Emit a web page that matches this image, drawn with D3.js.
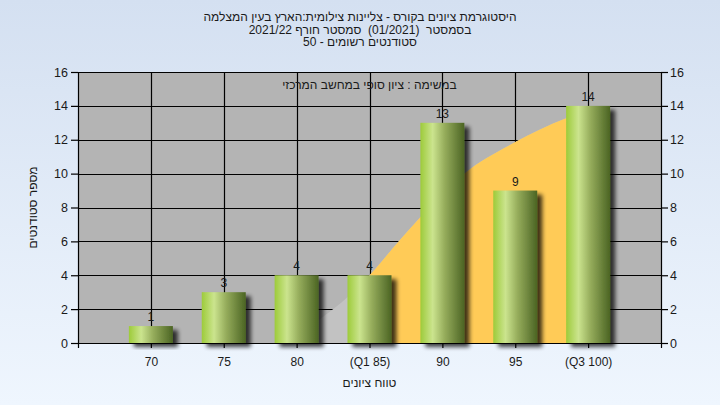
<!DOCTYPE html>
<html><head><meta charset="utf-8">
<script src="https://cdn.jsdelivr.net/npm/d3@7"></script>
<style>
html,body{margin:0;padding:0;}
svg{display:block;}
text{font-family:"Liberation Sans",Arial,"DejaVu Sans",sans-serif;fill:#1a1a1a;}
text.heb{white-space:pre;}
</style></head>
<body><svg id="c" width="720" height="405"></svg>
<script>
// ---- data ----
const categories = ["70","75","80","(Q1 85)","90","95","(Q3 100)"];
const gradeValues = [70,75,80,85,90,95,100];
const counts = [1,3,4,4,13,9,14];
const yTicks = [0,2,4,6,8,10,12,14,16];
const curveX = [79.5,81.8,83.5,85,87.1,88.5,91.5,95,98.4,100];
const curveY = [0,1.53,2.72,4.0,6.1,7.44,10.0,11.86,13.24,13.7];
const quartileRange = [85,100];
const titleLines = ["היסטוגרמת ציונים בקורס - צליינות צילומית:הארץ בעין המצלמה",
                    "בסמסטר  (01/2021)  סמסטר חורף 2021/22",
                    "סטודנטים רשומים - 50"];
const innerLabel = "במשימה : ציון סופי במחשב המרכזי";
const xTitle = "טווח ציונים";
const yTitle = "מספר סטודנטים";

const svg = d3.select("#c");
const W=720,H=405;
const m={l:78,r:59,t:72,b:62};
const pw=W-m.l-m.r, ph=H-m.t-m.b;

const defs=svg.append("defs");
const bg=defs.append("linearGradient").attr("id","bg").attr("x1",0).attr("y1",0).attr("x2",0).attr("y2",1);
bg.append("stop").attr("offset","0").attr("stop-color","#d4e0f1");
bg.append("stop").attr("offset","1").attr("stop-color","#eff6fe");
const bgr=defs.append("linearGradient").attr("id","bar").attr("x1",0).attr("y1",0).attr("x2",1).attr("y2",0);
[[0,"#9dcb3a"],[0.28,"#cbe48e"],[0.55,"#96ad5c"],[1,"#4b6423"]].forEach(s=>bgr.append("stop").attr("offset",s[0]).attr("stop-color",s[1]));
const f=defs.append("filter").attr("id","sh").attr("x","-20%").attr("y","-20%").attr("width","160%").attr("height","160%");
f.append("feGaussianBlur").attr("in","SourceAlpha").attr("stdDeviation",2.2).attr("result","b");
f.append("feOffset").attr("in","b").attr("dx",5).attr("dy",4).attr("result","o");
f.append("feComponentTransfer").attr("in","o").attr("result","o2").append("feFuncA").attr("type","linear").attr("slope",0.75);
const mg=f.append("feMerge"); mg.append("feMergeNode").attr("in","o2"); mg.append("feMergeNode").attr("in","SourceGraphic");

svg.append("rect").attr("width",W).attr("height",H).attr("fill","url(#bg)");

const x=d3.scaleLinear().domain([65,105]).range([m.l,m.l+pw]);
const y=d3.scaleLinear().domain([0,16]).range([m.t+ph,m.t]);

svg.append("rect").attr("x",m.l).attr("y",m.t).attr("width",pw).attr("height",ph).attr("fill","#b4b4b4");

// grid
const g=svg.append("g").attr("stroke","#000").attr("stroke-width",1.2);
yTicks.forEach(t=>g.append("line").attr("x1",m.l).attr("x2",m.l+pw).attr("y1",Math.round(y(t))+0.5).attr("y2",Math.round(y(t))+0.5));
gradeValues.forEach(v=>g.append("line").attr("y1",m.t).attr("y2",m.t+ph).attr("x1",Math.round(x(v))+0.5).attr("x2",Math.round(x(v))+0.5));

// area
const pts=curveX.map((d,i)=>[d,curveY[i]]);
const area=d3.area().x(d=>x(d[0])).y0(y(0)).y1(d=>y(d[1])).curve(d3.curveMonotoneX);
svg.append("path").attr("d",area(pts)).attr("fill","#c2c2c2");
defs.append("clipPath").attr("id","q").append("rect").attr("x",x(quartileRange[0])).attr("width",x(quartileRange[1])-x(quartileRange[0])).attr("y",m.t).attr("height",ph);
svg.append("path").attr("d",area(pts)).attr("fill","#ffcb57").attr("clip-path","url(#q)");

// bars
const bw=44;
svg.append("g").selectAll("rect").data(counts).join("rect")
  .attr("x",(d,i)=>x(gradeValues[i])-bw/2).attr("width",bw)
  .attr("y",d=>y(d)).attr("height",d=>y(0)-y(d))
  .attr("fill","url(#bar)").attr("filter","url(#sh)");
svg.append("g").selectAll("text").data(counts).join("text")
  .attr("x",(d,i)=>x(gradeValues[i])).attr("y",d=>y(d)-5)
  .attr("text-anchor","middle").attr("font-size",12).text(d=>d);

// axes
const yl=svg.append("g").attr("transform",`translate(${m.l},0)`).call(d3.axisLeft(y).tickValues(yTicks).tickSize(7).tickSizeOuter(0).tickPadding(3));
const yr=svg.append("g").attr("transform",`translate(${m.l+pw},0)`).call(d3.axisRight(y).tickValues(yTicks).tickSize(7).tickSizeOuter(0).tickPadding(2));
const xa=svg.append("g").attr("transform",`translate(0,${m.t+ph})`).call(d3.axisBottom(x).tickValues(gradeValues).tickFormat((d,i)=>categories[i]).tickSize(5).tickSizeOuter(5).tickPadding(9));
[yl,yr,xa].forEach(a=>{a.selectAll("path,line").attr("stroke","#000").attr("stroke-width",1.2);a.selectAll("text").attr("font-size",12.5).attr("fill","#1a1a1a").attr("font-family","Liberation Sans, Arial, sans-serif");});
xa.selectAll("text").attr("font-size",12);

// titles (Hebrew, right-to-left)
function heb(t, cx, cy, rot){
  const e = svg.append("text").attr("class","heb").attr("direction","rtl").attr("text-anchor","middle").attr("font-size",12).text(t);
  if(rot) e.attr("transform",`translate(${cx},${cy}) rotate(${rot})`);
  else e.attr("x",cx).attr("y",cy);
  return e;
}
titleLines.forEach((t,i)=>heb(t, W/2, 21+i*12.5));
heb(innerLabel, m.l+pw/2, 89);
heb(xTitle, m.l+pw/2, 387);
heb(yTitle, 37, m.t+ph/2, -90);
</script></body></html>
